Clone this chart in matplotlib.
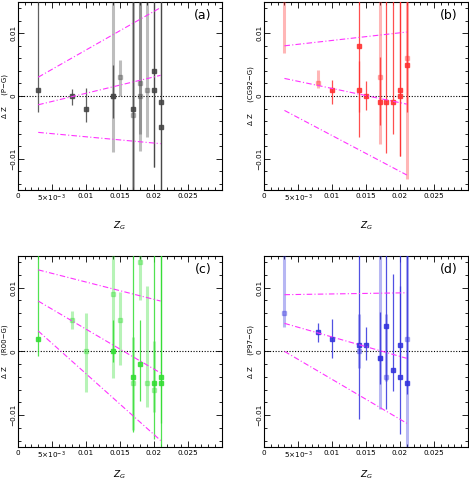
import numpy as np
import matplotlib
matplotlib.use("Agg")
import matplotlib.pyplot as plt
from matplotlib.ticker import MultipleLocator, FixedLocator

# ---- data ---------------------------------------------------------------
# (a) P-G
a_x = [0.003, 0.008, 0.010, 0.014, 0.014, 0.015, 0.017, 0.017, 0.018, 0.018, 0.019, 0.020, 0.020, 0.021, 0.021]
a_y = [0.001, 0.000, -0.002, 0.000, 0.000, 0.003, -0.002, -0.003, 0.002, 0.000, 0.001, 0.004, 0.001, -0.001, -0.005]
a_lo = [-0.0026, -0.0015, -0.0041, -0.0035, -0.0090, 0.0000, -0.0200, -0.0200, -0.0061, -0.0087, -0.0066, -0.0113, -0.0113, -0.0200, -0.0200]
a_hi = [0.0300, 0.0011, 0.0013, 0.0050, 0.0300, 0.0058, 0.0300, 0.0300, 0.0300, 0.0300, 0.0300, 0.0300, 0.0300, 0.0300, 0.0300]
a_light = [0, 0, 0, 0, 1, 1, 0, 1, 1, 1, 1, 0, 0, 0, 0]
a_fit_x = [0.003, 0.021]
a_fit_up = [0.0030, 0.0141]
a_fit_mid = [-0.0014, 0.0033]
a_fit_low = [-0.0058, -0.0076]

# (b) CG92-G
b_x = [0.003, 0.008, 0.010, 0.014, 0.014, 0.015, 0.017, 0.017, 0.018, 0.019, 0.020, 0.020, 0.021, 0.021]
b_y = [0.018, 0.002, 0.001, 0.008, 0.001, 0.000, 0.003, -0.001, -0.001, -0.001, 0.001, 0.000, 0.006, 0.005]
b_lo = [0.0069, 0.0012, -0.0013, -0.0065, -0.0026, -0.0022, -0.0077, -0.0046, -0.0091, -0.0060, -0.0096, -0.0096, -0.0133, -0.0026]
b_hi = [0.0300, 0.0042, 0.0025, 0.0300, 0.0056, 0.0024, 0.0300, 0.0062, 0.0300, 0.0300, 0.0300, 0.0300, 0.0300, 0.0300]
b_light = [1, 1, 0, 0, 0, 0, 1, 0, 0, 0, 0, 0, 1, 0]
b_fit_x = [0.003, 0.021]
b_fit_up = [0.0080, 0.0102]
b_fit_mid = [0.0028, -0.0013]
b_fit_low = [-0.0023, -0.0126]

# (c) R00-G
c_x = [0.003, 0.008, 0.010, 0.014, 0.014, 0.015, 0.017, 0.017, 0.018, 0.018, 0.019, 0.020, 0.020, 0.021, 0.021]
c_y = [0.002, 0.005, 0.000, 0.009, 0.000, 0.005, -0.004, -0.005, 0.014, -0.002, -0.005, -0.005, -0.006, -0.004, -0.005]
c_lo = [-0.0008, 0.0035, -0.0064, -0.0042, -0.0017, -0.0021, -0.0127, -0.0123, 0.0080, -0.0078, -0.0087, -0.0137, -0.0096, -0.0200, -0.0113]
c_hi = [0.0300, 0.0064, 0.0061, 0.0300, 0.0050, 0.0094, 0.0300, 0.0023, 0.0300, 0.0050, 0.0102, 0.0300, 0.0016, 0.0300, 0.0300]
c_light = [0, 1, 1, 1, 0, 1, 0, 1, 1, 0, 1, 0, 1, 0, 0]
c_fit_x = [0.003, 0.021]
c_fit_up = [0.0128, 0.0079]
c_fit_mid = [0.0079, -0.0034]
c_fit_low = [0.0032, -0.0140]

# (d) P97-G
d_x = [0.003, 0.008, 0.010, 0.014, 0.014, 0.015, 0.017, 0.017, 0.018, 0.018, 0.019, 0.020, 0.020, 0.021, 0.021]
d_y = [0.006, 0.003, 0.002, 0.001, 0.000, 0.001, -0.001, -0.001, 0.004, -0.004, -0.003, 0.001, -0.004, 0.002, -0.005]
d_lo = [0.0039, 0.0015, -0.0010, -0.0106, -0.0026, -0.0013, -0.0090, -0.0052, -0.0090, -0.0047, -0.0062, -0.0035, -0.0130, -0.0200, -0.0067]
d_hi = [0.0300, 0.0044, 0.0051, 0.0300, 0.0059, 0.0038, 0.0300, 0.0062, 0.0300, 0.0059, 0.0121, 0.0102, 0.0300, 0.0300, 0.0300]
d_light = [1, 0, 0, 0, 1, 0, 1, 0, 0, 1, 0, 0, 0, 1, 0]
d_fit_x = [0.003, 0.021]
d_fit_up = [0.0089, 0.0092]
d_fit_mid = [0.0044, -0.0011]
d_fit_low = [0.0000, -0.0113]

FS = 5.2


def draw_panel(ax, x, y, lo, hi, light, fx, fup, fmid, flow, color, ylab, tag, xlab_y):
    x = np.array(x); y = np.array(y); lo = np.array(lo); hi = np.array(hi)
    light = np.array(light, dtype=bool)
    for sel, lw, al in [(light, 2.2, 0.35), (~light, 0.9, 0.85)]:
        ax.errorbar(x[sel], y[sel], yerr=[y[sel] - lo[sel], hi[sel] - y[sel]],
                    fmt="s", ms=3.2, mfc=color, mec=color, color=color,
                    ecolor=color, elinewidth=lw, alpha=al, capsize=0, zorder=3)
    for fy in (fup, fmid, flow):
        ax.plot(fx, fy, color="#ff33ff", lw=0.8, ls=(0, (5, 2, 1, 2)), zorder=4)
    ax.axhline(0, color="black", lw=0.8, ls=(0, (1, 1.5)), zorder=2)

    ax.set_xlim(0, 0.03)
    ax.set_ylim(-0.015, 0.015)
    ax.xaxis.set_major_locator(FixedLocator([0, 0.005, 0.01, 0.015, 0.02, 0.025]))
    ax.set_xticklabels(["0", r"5$\times$10$^{-3}$", "0.01", "0.015", "0.02", "0.025"], fontsize=FS)
    ax.xaxis.set_minor_locator(MultipleLocator(0.001))
    ax.yaxis.set_major_locator(FixedLocator([-0.01, 0, 0.01]))
    ax.set_yticklabels(["\u22120.01", "0", "0.01"], fontsize=FS, rotation=90, va="center")
    ax.yaxis.set_minor_locator(MultipleLocator(0.002))
    ax.tick_params(which="both", direction="in", top=True, right=True, width=0.6, pad=2)
    ax.tick_params(axis="y", which="both", pad=1)
    ax.tick_params(which="major", length=4)
    ax.tick_params(which="minor", length=2)
    for sp in ax.spines.values():
        sp.set_linewidth(0.8)
    ax.set_xlabel(r"$Z_G$", fontsize=6.5)
    ax.xaxis.set_label_coords(0.5, xlab_y)
    ax.set_ylabel(ylab, fontsize=5)
    ax.yaxis.set_label_coords(-0.05, 0.5)
    ax.text(0.95, 0.93, tag, transform=ax.transAxes, ha="right", va="center", fontsize=9)


fig = plt.figure(figsize=(4.69, 4.80), dpi=100)
ax_a = fig.add_axes([0.038, 0.604, 0.435, 0.392])
ax_b = fig.add_axes([0.563, 0.604, 0.435, 0.392])
ax_c = fig.add_axes([0.038, 0.069, 0.435, 0.398])
ax_d = fig.add_axes([0.563, 0.069, 0.435, 0.398])

draw_panel(ax_a, a_x, a_y, a_lo, a_hi, a_light, a_fit_x, a_fit_up, a_fit_mid, a_fit_low,
           "#444444", "\u0394 Z     (P\u2212G)", "(a)", -0.155)
draw_panel(ax_b, b_x, b_y, b_lo, b_hi, b_light, b_fit_x, b_fit_up, b_fit_mid, b_fit_low,
           "#ff3030", "\u0394 Z     (CG92\u2212G)", "(b)", -0.155)
draw_panel(ax_c, c_x, c_y, c_lo, c_hi, c_light, c_fit_x, c_fit_up, c_fit_mid, c_fit_low,
           "#33dd33", "\u0394 Z     (R00\u2212G)", "(c)", -0.115)
draw_panel(ax_d, d_x, d_y, d_lo, d_hi, d_light, d_fit_x, d_fit_up, d_fit_mid, d_fit_low,
           "#3333dd", "\u0394 Z     (P97\u2212G)", "(d)", -0.115)

fig.savefig("out.png", dpi=100)
